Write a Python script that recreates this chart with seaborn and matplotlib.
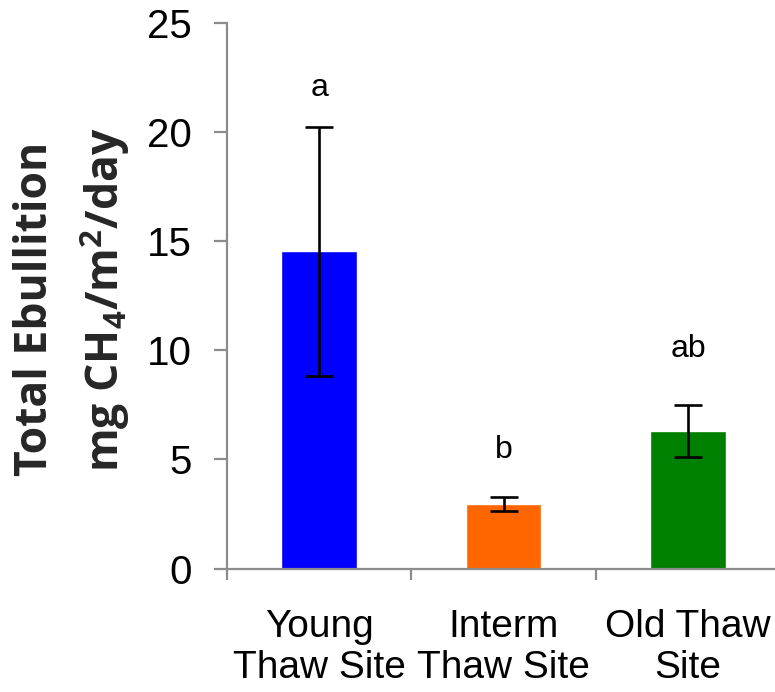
import matplotlib
matplotlib.use("Agg")
import matplotlib.pyplot as plt
import seaborn as sns
import numpy as np

# Mean total ebullition per site with standard error and significance letters
sites = ["Young\nThaw Site", "Interm\nThaw Site", "Old Thaw\nSite"]
means = [14.54, 2.96, 6.30]
errors = [5.70, 0.33, 1.20]
letters = ["a", "b", "ab"]
letter_y = [21.66, 5.06, 9.70]
colors = ["#0000ff", "#ff6600", "#008000"]
yticks = [0, 5, 10, 15, 20, 25]

sns.set_theme(style="white")
plt.rcParams["font.family"] = ["Liberation Sans", "DejaVu Sans"]
plt.rcParams["mathtext.fontset"] = "custom"
plt.rcParams["mathtext.rm"] = "Open Sans:bold"
plt.rcParams["mathtext.bf"] = "Open Sans:bold"

W, H = 775, 692
fig = plt.figure(figsize=(W / 100, H / 100), dpi=100)
x0, y0, y1 = 227, 568.5, 22.7
ax = fig.add_axes([x0 / W, (H - y0) / H, 1 - x0 / W, (y0 - y1) / H])

sns.barplot(x=sites, y=means, hue=sites, palette=colors, legend=False,
            width=0.41, saturation=1, ax=ax, errorbar=None)
ax.errorbar(np.arange(len(sites)), means, yerr=errors, fmt="none",
            ecolor="black", elinewidth=1.9, capsize=10, capthick=1.9)

for i, (lab, ly) in enumerate(zip(letters, letter_y)):
    ax.text(i, ly, lab, ha="center", va="baseline", fontsize=23, color="black")

ax.set_ylim(0, 25)
ax.set_xlim(-0.5, (W - 319) / 184.5)
ax.set_yticks(yticks)
ax.set_yticklabels([str(t) for t in yticks])

# boundary ticks on the category axis, labels centered under the bars
ax.set_xticks([-0.5, 0.5, 1.5])
ax.set_xticklabels([])
ax.set_xticks(np.arange(len(sites)), minor=True)
ax.set_xticklabels(sites, minor=True)

spine_col = "#8c8c8c"
for s in ["top", "right"]:
    ax.spines[s].set_visible(False)
for s in ["left", "bottom"]:
    ax.spines[s].set_color(spine_col)
    ax.spines[s].set_linewidth(1.6)

ax.tick_params(axis="y", which="major", direction="out", length=9.5, width=1.6,
               color=spine_col, labelsize=29, pad=16, left=True, labelcolor="black")
ax.tick_params(axis="x", which="major", direction="out", length=8, width=1.6,
               color=spine_col, bottom=True)
ax.tick_params(axis="x", which="minor", length=0, labelsize=28, pad=29,
               labelcolor="black")
for t in ax.get_xticklabels(minor=True):
    t.set_linespacing(1.2)

ax.set_xlabel("")
ax.set_ylabel("")

fig.text(36 / W, 1 - 309 / H, "Total Ebullition", rotation=90, ha="center",
         va="center", fontsize=32, fontweight="bold", family="Open Sans")
fig.text(105 / W, 1 - 300 / H, r"mg CH$_{4}$/m$^{2}$/day", rotation=90,
         ha="center", va="center", fontsize=32, fontweight="bold",
         family="Open Sans")

fig.savefig("out.png", dpi=100, facecolor="white")
